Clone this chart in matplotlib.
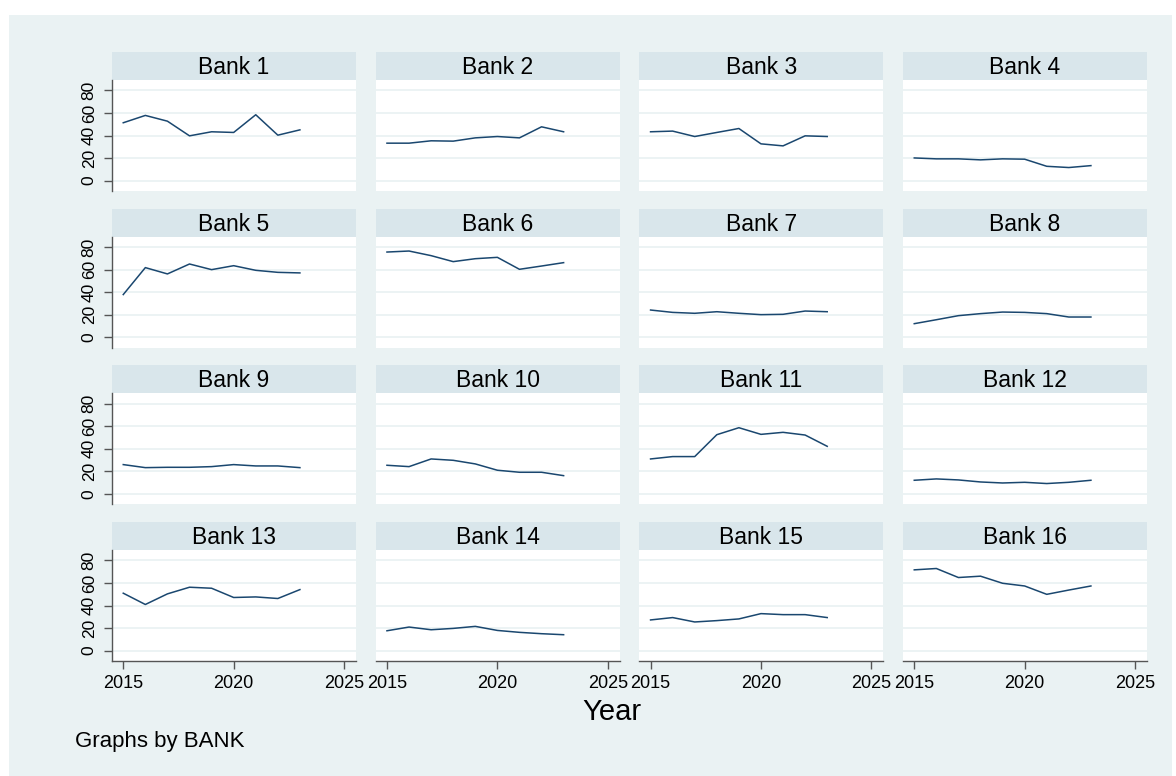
import matplotlib
matplotlib.use("Agg")
import matplotlib.pyplot as plt

plt.rcParams['font.family'] = ['Liberation Sans', 'DejaVu Sans']

years = [2015, 2016, 2017, 2018, 2019, 2020, 2021, 2022, 2023]
banks = [f"Bank {i}" for i in range(1, 17)]
bank_1 = [51.3, 57.8, 52.7, 39.7, 43.3, 42.7, 58.4, 40.3, 45.0]
bank_2 = [33.2, 33.2, 35.3, 35.0, 37.9, 39.1, 37.9, 47.7, 43.3]
bank_3 = [43.3, 43.9, 39.1, 42.7, 46.2, 32.6, 30.8, 39.7, 39.1]
bank_4 = [20.1, 19.3, 19.3, 18.4, 19.3, 19.0, 12.7, 11.6, 13.3]
bank_5 = [37.9, 61.8, 56.2, 65.0, 60.0, 63.5, 59.4, 57.6, 57.1]
bank_6 = [75.6, 76.5, 72.4, 67.1, 69.7, 70.9, 60.3, 63.2, 66.2]
bank_7 = [24.2, 22.1, 21.3, 22.7, 21.3, 20.1, 20.4, 23.3, 22.7]
bank_8 = [12.1, 15.6, 19.2, 21.0, 22.4, 22.1, 21.0, 18.0, 18.0]
bank_9 = [26.0, 23.3, 23.6, 23.6, 24.2, 26.0, 24.8, 24.8, 23.3]
bank_10 = [25.4, 24.2, 31.0, 29.8, 26.6, 21.0, 19.2, 19.2, 16.2]
bank_11 = [31.0, 33.1, 33.1, 52.5, 58.7, 52.8, 54.6, 52.2, 42.2]
bank_12 = [12.1, 13.3, 12.4, 10.6, 9.7, 10.3, 9.2, 10.3, 12.1]
bank_13 = [50.9, 40.9, 50.3, 56.2, 55.3, 47.1, 47.6, 46.2, 54.1]
bank_14 = [17.6, 20.9, 18.5, 19.7, 21.5, 17.9, 16.2, 15.0, 14.1]
bank_15 = [27.2, 29.3, 25.4, 26.6, 28.1, 32.8, 31.9, 31.9, 29.3]
bank_16 = [71.6, 72.8, 64.8, 66.0, 59.7, 57.3, 49.9, 53.7, 57.3]
series = [bank_1, bank_2, bank_3, bank_4, bank_5, bank_6, bank_7, bank_8,
          bank_9, bank_10, bank_11, bank_12, bank_13, bank_14, bank_15, bank_16]
y_ticks = [0, 20, 40, 60, 80]
x_ticks = [2015, 2020, 2025]

W, H = 1176, 776
BG = "#EAF2F3"
HDR = "#D9E6EB"
LINE = "#1A476F"

fig = plt.figure(figsize=(W / 100, H / 100), dpi=100)
fig.patch.set_facecolor("white")

bg = fig.add_axes([9 / W, 0, (W - 9 - 4) / W, (H - 15) / H], zorder=-10)
bg.set_facecolor(BG)
bg.set_xticks([]); bg.set_yticks([])
for s in bg.spines.values():
    s.set_visible(False)

def fr(x0, y0, w, h):
    return [x0 / W, 1 - (y0 + h) / H, w / W, h / H]

col_left = [112, 375.7, 639.3, 903]
row_top = [52, 208.7, 365.3, 522]
pw = 244
hh = 28
ph = 111

for i, (name, vals) in enumerate(zip(banks, series)):
    r, c = divmod(i, 4)
    x0 = col_left[c]
    y0 = row_top[r]
    hax = fig.add_axes(fr(x0, y0, pw, hh))
    hax.set_facecolor(HDR)
    hax.set_xticks([]); hax.set_yticks([])
    for s in hax.spines.values():
        s.set_visible(False)
    hax.text(0.5, 0.45, name, ha="center", va="center", fontsize=16.5, color="black",
             transform=hax.transAxes)

    ax = fig.add_axes(fr(x0, y0 + hh, pw, ph))
    ax.set_facecolor("white")
    ax.set_xlim(2014.49, 2025.54)
    ax.set_ylim(-9.2, 89.2)
    ax.set_yticks(y_ticks)
    ax.set_xticks(x_ticks)
    ax.grid(axis="y", color=BG, linewidth=1.3)
    ax.set_axisbelow(True)
    for s in ax.spines.values():
        s.set_visible(False)
    ax.plot(years, vals, color=LINE, linewidth=1.1, zorder=3)
    if c == 0:
        ax.spines["left"].set_visible(True)
        ax.spines["left"].set_color("#555555")
        ax.spines["left"].set_linewidth(1.0)
        ax.tick_params(axis="y", length=6, width=1.0, color="#555555",
                       labelsize=12.5, pad=5)
        ax.set_yticklabels([str(v) for v in y_ticks], rotation=90, va="center")
    else:
        ax.tick_params(axis="y", left=False, labelleft=False)
    if r == 3:
        ax.spines["bottom"].set_visible(True)
        ax.spines["bottom"].set_color("#555555")
        ax.spines["bottom"].set_linewidth(1.0)
        ax.tick_params(axis="x", length=6, width=1.0, color="#555555",
                       labelsize=13, pad=4)
    else:
        ax.tick_params(axis="x", bottom=False, labelbottom=False)

fig.text(612 / W, 1 - 712 / H, "Year", ha="center", va="center", fontsize=21)
fig.text(75 / W, 1 - 741 / H, "Graphs by BANK", ha="left", va="center", fontsize=16)

fig.savefig("out.png", dpi=100, facecolor=fig.get_facecolor())
